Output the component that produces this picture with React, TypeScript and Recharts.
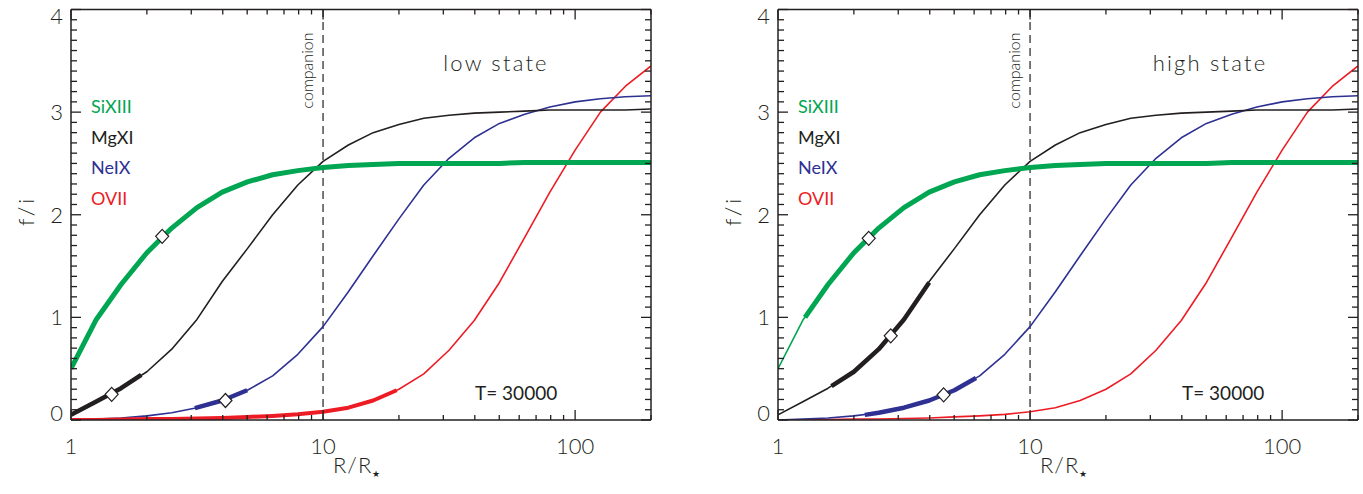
import React from 'react';
import { ComposedChart, Line, Scatter, XAxis, YAxis, ReferenceLine } from 'recharts';

// model grid, R / R*
const radius = [1, 1.26, 1.58, 2, 2.51, 3.16, 3.98, 5.01, 6.31, 7.94, 10, 12.6, 15.8, 20, 25.1, 31.6, 39.8, 50.1, 63.1, 79.4, 100, 126, 158, 200];

// f/i ratios
const siXIII = [0.5, 0.98, 1.32, 1.63, 1.87, 2.07, 2.22, 2.32, 2.39, 2.43, 2.46, 2.48, 2.49, 2.5, 2.5, 2.5, 2.5, 2.5, 2.51, 2.51, 2.51, 2.51, 2.51, 2.51];
const mgXI = [0.05, 0.18, 0.31, 0.47, 0.69, 0.98, 1.35, 1.67, 2.0, 2.29, 2.52, 2.68, 2.8, 2.88, 2.94, 2.97, 2.99, 3.0, 3.01, 3.02, 3.02, 3.02, 3.02, 3.03];
const neIX = [0.0, 0.01, 0.02, 0.04, 0.07, 0.12, 0.19, 0.29, 0.43, 0.64, 0.91, 1.25, 1.6, 1.96, 2.29, 2.55, 2.75, 2.89, 2.98, 3.05, 3.1, 3.13, 3.15, 3.16];
const oVII = [0.0, 0.0, 0.005, 0.01, 0.01, 0.015, 0.02, 0.03, 0.04, 0.055, 0.08, 0.12, 0.19, 0.3, 0.45, 0.68, 0.97, 1.34, 1.78, 2.22, 2.63, 3.0, 3.25, 3.45];

// low state: thick (line-forming) ranges
const lowMgThickR = [1, 1.26, 1.58, 1.9];
const lowMgThick = [0.05, 0.18, 0.31, 0.44];
const lowNeThickR = [3.1, 3.98, 5.0];
const lowNeThick = [0.115, 0.19, 0.29];
const lowOThickR = [1, 1.26, 1.58, 2, 2.51, 3.16, 3.98, 5.01, 6.31, 7.94, 10, 12.6, 15.8, 19.6];
const lowOThick = [0.0, 0.0, 0.005, 0.01, 0.01, 0.015, 0.02, 0.03, 0.04, 0.055, 0.08, 0.12, 0.19, 0.29];
const lowMarkR = [2.3, 1.45, 4.1];
const lowMark = [1.79, 0.25, 0.19];

// high state
const highSiThickR = [1.28, 1.58, 2, 2.51, 3.16, 3.98, 5.01, 6.31, 7.94, 10, 12.6, 15.8, 20, 25.1, 31.6, 39.8, 50.1, 63.1, 79.4, 100, 126, 158, 200];
const highSiThick = [1.0, 1.32, 1.63, 1.87, 2.07, 2.22, 2.32, 2.39, 2.43, 2.46, 2.48, 2.49, 2.5, 2.5, 2.5, 2.5, 2.5, 2.51, 2.51, 2.51, 2.51, 2.51, 2.51];
const highMgThickR = [1.63, 2, 2.51, 3.16, 3.98];
const highMgThick = [0.33, 0.47, 0.69, 0.98, 1.34];
const highNeThickR = [2.21, 2.51, 3.16, 3.98, 5.01, 6.1];
const highNeThick = [0.05, 0.07, 0.12, 0.19, 0.29, 0.41];
const highMarkR = [2.29, 2.8, 4.54];
const highMark = [1.77, 0.82, 0.245];

const xTicks = [1, 2, 3, 4, 5, 6, 7, 8, 9, 10, 20, 30, 40, 50, 60, 70, 80, 90, 100, 200];
const xLabels = [1, 10, 100];
const yTicks = [
    0, 0.1, 0.2, 0.3, 0.4, 0.5, 0.6, 0.7, 0.8, 0.9,
    1, 1.1, 1.2, 1.3, 1.4, 1.5, 1.6, 1.7, 1.8, 1.9,
    2, 2.1, 2.2, 2.3, 2.4, 2.5, 2.6, 2.7, 2.8, 2.9,
    3, 3.1, 3.2, 3.3, 3.4, 3.5, 3.6, 3.7, 3.8, 3.9, 4,
];
const ionNames = ['SiXIII', 'MgXI', 'NeIX', 'OVII'];

const INK = '#231f20';
const GREEN = '#00a651';
const BLUE = '#2e3192';
const RED = '#ed1c24';
const ionColors = [GREEN, INK, BLUE, RED];
const FONT = 'Lato, "Open Sans", "DejaVu Sans", sans-serif';

const toPoints = (rs: number[], fs: number[]) => rs.map((r, i) => ({ r, f: fs[i] }));

const axisLine = { stroke: INK, strokeWidth: 1.5 };

// inward IDL-style tick marks, labels only on the majors
function AxisTick(props: any) {
    const { x, y, payload, side } = props;
    const v = Number(payload.value);
    const px = Number(x);
    const py = Number(y);
    if (side === 'bottom' || side === 'top') {
        const major = xLabels.includes(v);
        const len = major ? 10 : 5;
        const dir = side === 'bottom' ? -1 : 1;
        return (
            <g>
                <path d={`M${px},${py}V${py + dir * len}`} stroke={INK} strokeWidth={1.3} fill="none" />
                {side === 'bottom' && major && (
                    <text x={px} y={py + 34} textAnchor="middle" fontSize={22} fontWeight={300} fill={INK} stroke="none" fontFamily={FONT}>
                        {v}
                    </text>
                )}
            </g>
        );
    }
    const major = Number.isInteger(v);
    const len = major ? 10 : 6;
    const dir = side === 'left' ? 1 : -1;
    // top and bottom labels sit a little inside the frame
    const shift = v === 4 ? 14.5 : v === 0 ? 1 : 8;
    return (
        <g>
            <path d={`M${px},${py}H${px + dir * len}`} stroke={INK} strokeWidth={1.3} fill="none" />
            {side === 'left' && major && (
                <text x={px - 8} y={py + shift} textAnchor="end" fontSize={22} fontWeight={300} fill={INK} stroke="none" fontFamily={FONT}>
                    {v}
                </text>
            )}
        </g>
    );
}

function Diamond(props: any) {
    const { cx, cy } = props;
    if (cx == null || cy == null) return null;
    return (
        <path
            d={`M${cx} ${cy - 7} L${cx + 6.5} ${cy} L${cx} ${cy + 7} L${cx - 6.5} ${cy} Z`}
            fill="#fff"
            stroke={INK}
            strokeWidth={1.2}
        />
    );
}

function CompanionLabel(props: any) {
    const { viewBox } = props;
    if (!viewBox) return null;
    const x = viewBox.x - 10;
    const y = viewBox.y + 61;
    return (
        <text transform={`translate(${x},${y}) rotate(-90)`} textAnchor="middle" fontSize={16} fontWeight={300} fill={INK} fontFamily={FONT}>
            companion
        </text>
    );
}

interface Segment {
    data: { r: number; f: number }[];
    color: string;
    width: number;
}

interface PanelProps {
    left: number;
    width: number;
    rightMargin: number;
    title: string;
    titleX: number;
    greenThin: boolean;
    thick: Segment[];
    marks: { r: number; f: number }[];
}

function Panel({ left, width, rightMargin, title, titleX, greenThin, thick, marks }: PanelProps) {
    const series = [oVII, neIX, mgXI, siXIII];
    const colors = [RED, BLUE, INK, GREEN];
    return (
        <div style={{ position: 'absolute', left, top: 0, width, height: 494 }}>
            <ComposedChart width={width} height={494} margin={{ top: 8.5, right: rightMargin, bottom: 0, left: 0 }}>
                <XAxis type="number" dataKey="r" scale="log" domain={[1, 200]} allowDataOverflow ticks={xTicks} interval={0}
                    height={74} tickSize={0} tickMargin={0} tickLine={false} axisLine={axisLine} tick={<AxisTick side="bottom" />} />
                <XAxis xAxisId="top" orientation="top" type="number" dataKey="r" scale="log" domain={[1, 200]} allowDataOverflow ticks={xTicks} interval={0}
                    height={1} tickSize={0} tickMargin={0} tickLine={false} axisLine={axisLine} tick={<AxisTick side="top" />} />
                <YAxis type="number" domain={[0, 4]} allowDataOverflow ticks={yTicks} interval={0}
                    width={71} tickSize={0} tickMargin={0} tickLine={false} axisLine={axisLine} tick={<AxisTick side="left" />} />
                <YAxis yAxisId="right" orientation="right" type="number" domain={[0, 4]} allowDataOverflow ticks={yTicks} interval={0}
                    width={1} tickSize={0} tickMargin={0} tickLine={false} axisLine={axisLine} tick={<AxisTick side="right" />} />
                <ReferenceLine x={10} stroke="#4d4d4d" strokeWidth={1.5} strokeDasharray="8 5" label={<CompanionLabel />} />
                {series.map((s, i) => (
                    <Line
                        key={`base-${i}`}
                        data={toPoints(radius, s)}
                        dataKey="f"
                        type="linear"
                        stroke={colors[i]}
                        strokeWidth={i === 3 && !greenThin ? 5 : 1.6}
                        strokeLinejoin="round"
                        dot={false}
                        isAnimationActive={false}
                    />
                ))}
                {thick.map((seg, i) => (
                    <Line
                        key={`thick-${i}`}
                        data={seg.data}
                        dataKey="f"
                        type="linear"
                        stroke={seg.color}
                        strokeWidth={seg.width}
                        strokeLinejoin="round"
                        dot={false}
                        isAnimationActive={false}
                    />
                ))}
                <Scatter data={marks} dataKey="f" shape={<Diamond />} isAnimationActive={false} />
            </ComposedChart>
            <svg width={width} height={494} style={{ position: 'absolute', left: 0, top: 0, pointerEvents: 'none' }} fontFamily={FONT}>
                <text transform="translate(34,211) rotate(-90)" textAnchor="middle" fontSize={22} fontWeight={300} letterSpacing={3} fill={INK}>
                    f/i
                </text>
                <text x={333} y={473} fontSize={22} fontWeight={300} letterSpacing={1} fill={INK}>
                    R/R<tspan fontSize={9} dy={4}>★</tspan>
                </text>
                {ionNames.map((name, i) => (
                    <text key={name} x={91} y={113 + i * 30.7} fontSize={18} fill={ionColors[i]}>
                        {name}
                    </text>
                ))}
                <text x={titleX} y={71} textAnchor="middle" fontSize={22} fontWeight={300} letterSpacing={2.2} fill={INK}>
                    {title}
                </text>
                <text x={475} y={400} fontSize={19} fill={INK}>
                    T= 30000
                </text>
            </svg>
        </div>
    );
}

export default function App() {
    const lowThick: Segment[] = [
        { data: toPoints(lowOThickR, lowOThick), color: RED, width: 4 },
        { data: toPoints(lowNeThickR, lowNeThick), color: BLUE, width: 4.5 },
        { data: toPoints(lowMgThickR, lowMgThick), color: INK, width: 4.5 },
    ];
    const highThick: Segment[] = [
        { data: toPoints(highNeThickR, highNeThick), color: BLUE, width: 4.5 },
        { data: toPoints(highMgThickR, highMgThick), color: INK, width: 4.5 },
        { data: toPoints(highSiThickR, highSiThick), color: GREEN, width: 5 },
    ];
    return (
        <div style={{ position: 'absolute', left: 0, top: 0, width: 1363, height: 494, overflow: 'hidden', background: '#fff' }}>
            <Panel left={0} width={680} rightMargin={28} title="low state" titleX={496} greenThin={false}
                thick={lowThick} marks={toPoints(lowMarkR, lowMark)} />
            <Panel left={707} width={656} rightMargin={4} title="high state" titleX={503} greenThin={true}
                thick={highThick} marks={toPoints(highMarkR, highMark)} />
        </div>
    );
}
